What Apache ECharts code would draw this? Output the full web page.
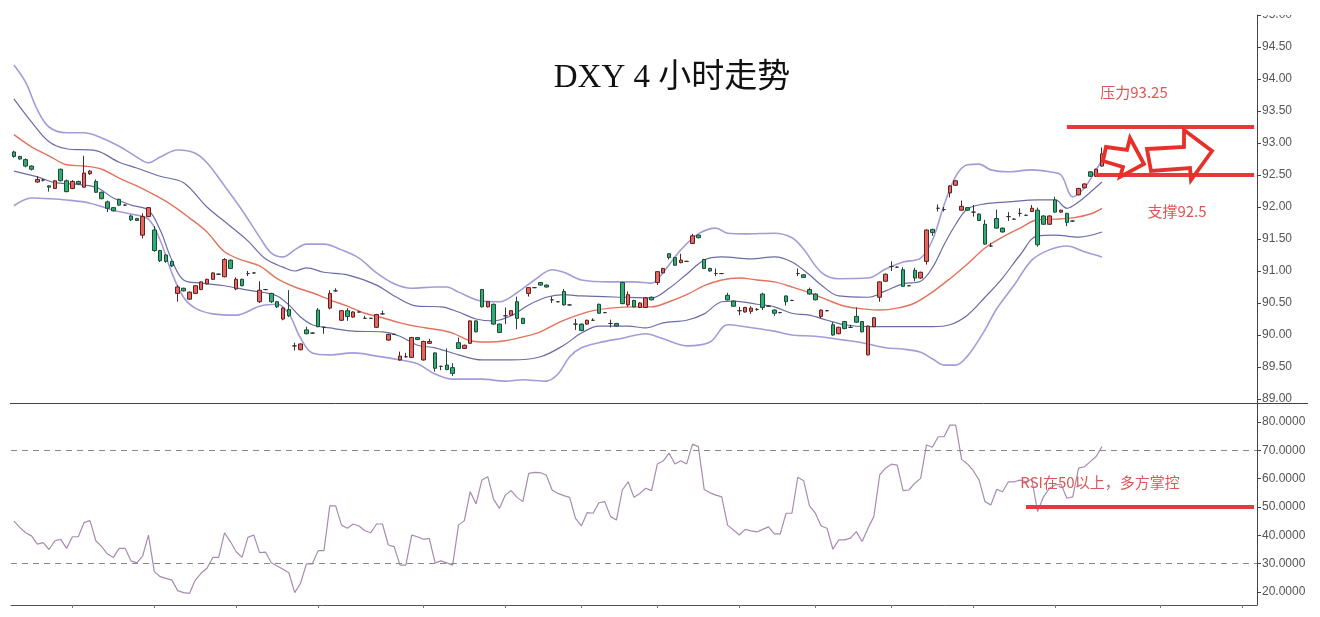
<!DOCTYPE html>
<html>
<head>
<meta charset="utf-8">
<script src="https://cdn.jsdelivr.net/npm/echarts@6.0.0/dist/echarts.min.js"></script>
<style>
html,body{margin:0;padding:0;background:#fff;}
#chart{width:1320px;height:617px;}
</style>
</head>
<body>
<div id="chart"></div>
<script>
// ---------------- DATA ----------------
const slotCount = 213; // 187 candles + empty slots to the right
const title = 'DXY 4 小时走势';

const open = [92.86,92.79,92.74,92.64,92.39,92.42,92.33,92.29,92.59,92.41,
92.29,92.40,92.31,92.52,92.40,92.23,92.08,91.99,92.12,92.03,
91.86,91.82,91.56,91.85,91.64,91.32,91.25,91.15,90.65,90.73,
90.56,90.65,90.71,90.80,90.87,90.95,90.91,91.17,90.72,90.87,
90.96,90.97,90.52,90.71,90.65,90.52,90.25,90.40,89.83,89.77,
90.08,90.03,90.39,90.12,90.42,90.69,90.23,90.38,90.28,90.36,
90.26,90.26,90.12,90.33,89.92,90.01,89.61,89.66,89.65,89.96,
89.61,89.87,89.72,89.51,89.53,89.49,89.88,89.79,89.87,90.22,
90.71,90.44,90.48,90.17,90.30,90.31,90.52,90.26,90.65,90.74,
90.82,90.78,90.55,90.52,90.68,90.47,90.17,90.17,90.17,90.23,
90.48,90.35,90.18,90.18,90.82,90.47,90.54,90.43,90.43,90.59,
90.82,90.97,91.27,91.21,91.13,91.15,91.43,91.56,91.18,91.04,
90.96,90.96,90.62,90.53,90.38,90.36,90.37,90.40,90.64,90.45,
90.39,90.35,90.61,90.54,90.96,90.94,90.71,90.64,90.29,90.38,
90.16,90.02,90.21,90.12,90.29,90.21,89.69,90.13,90.59,90.84,
91.07,91.06,91.02,90.77,91.01,90.89,91.15,91.65,91.98,91.96,
92.22,92.34,91.95,91.99,91.92,91.89,91.73,91.39,91.82,91.67,
91.85,91.81,91.90,91.87,91.93,91.95,91.86,91.73,92.11,91.92,
91.90,91.78,92.19,92.30,92.55,92.48,92.64];

const close = [92.79,92.75,92.64,92.59,92.43,92.42,92.31,92.41,92.41,92.24,
92.40,92.36,92.53,92.56,92.23,92.13,91.98,91.94,92.03,92.03,
91.80,91.79,91.85,91.99,91.32,91.16,91.15,91.08,90.75,90.69,
90.67,90.77,90.83,90.87,90.97,90.95,91.18,91.04,90.87,90.77,
90.96,90.97,90.70,90.71,90.52,90.44,90.42,90.30,89.83,89.86,
90.02,90.03,90.13,90.12,90.65,90.69,90.38,90.29,90.36,90.36,
90.26,90.26,90.32,90.33,90.01,90.01,89.67,89.66,89.96,89.93,
89.90,89.90,89.48,89.51,89.46,89.40,89.79,89.84,90.22,90.05,
90.44,90.52,90.17,90.04,90.30,90.38,90.26,90.18,90.74,90.74,
90.78,90.75,90.55,90.52,90.47,90.47,90.17,90.07,90.23,90.23,
90.34,90.35,90.18,90.14,90.49,90.63,90.44,90.50,90.58,90.55,
90.99,91.04,91.21,91.09,91.17,91.15,91.55,91.52,91.04,91.00,
90.96,90.96,90.55,90.45,90.38,90.43,90.42,90.40,90.43,90.45,
90.34,90.35,90.52,90.54,90.96,90.90,90.64,90.55,90.39,90.38,
90.00,90.12,90.10,90.12,90.20,90.05,90.14,90.27,90.83,90.95,
91.07,91.06,90.76,90.77,90.89,90.98,91.64,91.60,91.98,91.96,
92.33,92.41,92.01,91.95,91.92,91.79,91.42,91.39,91.67,91.61,
91.85,91.81,91.90,91.87,91.98,91.41,91.73,91.86,91.92,91.95,
91.76,91.78,92.29,92.36,92.48,92.59,92.83];

const low = [92.77,92.74,92.62,92.57,92.38,92.40,92.24,92.28,92.40,92.23,
92.28,92.35,92.30,92.50,92.22,92.12,91.92,91.93,92.02,92.02,
91.78,91.78,91.51,91.84,91.30,91.14,91.13,91.06,90.52,90.68,
90.55,90.64,90.70,90.79,90.86,90.94,90.90,91.03,90.70,90.76,
90.92,90.96,90.50,90.70,90.50,90.42,90.23,90.28,89.76,89.76,
90.01,90.02,90.12,90.02,90.40,90.68,90.22,90.22,90.27,90.35,
90.25,90.25,90.11,90.32,89.91,90.00,89.60,89.65,89.64,89.92,
89.60,89.86,89.43,89.45,89.45,89.36,89.78,89.78,89.86,90.04,
90.43,90.43,90.16,90.03,90.17,90.30,90.09,90.17,90.60,90.73,
90.77,90.74,90.50,90.51,90.46,90.46,90.08,90.06,90.16,90.22,
90.33,90.34,90.12,90.13,90.48,90.44,90.43,90.42,90.42,90.54,
90.78,90.96,91.18,91.08,91.12,91.14,91.42,91.51,91.03,90.99,
90.92,90.95,90.54,90.44,90.31,90.35,90.33,90.38,90.39,90.44,
90.30,90.34,90.46,90.53,90.92,90.89,90.63,90.54,90.26,90.37,
89.99,90.01,90.09,90.11,90.19,90.04,89.68,90.12,90.52,90.83,
91.00,91.05,90.75,90.76,90.84,90.88,91.10,91.55,91.93,91.93,
92.15,92.33,91.94,91.94,91.85,91.78,91.41,91.38,91.66,91.60,
91.78,91.80,91.85,91.86,91.92,91.38,91.72,91.72,91.91,91.91,
91.70,91.77,92.18,92.29,92.47,92.47,92.63];

const high = [92.88,92.80,92.76,92.65,92.48,92.44,92.34,92.42,92.60,92.43,
92.42,92.41,92.80,92.58,92.43,92.24,92.10,92.00,92.13,92.04,
91.88,91.83,91.90,92.00,91.70,91.33,91.26,91.16,90.78,90.74,
90.68,90.78,90.84,90.88,90.98,90.96,91.20,91.18,90.90,90.88,
91.00,90.98,90.84,90.72,90.66,90.53,90.44,90.70,89.88,89.87,
90.13,90.04,90.42,90.13,90.70,90.73,90.39,90.42,90.37,90.37,
90.30,90.27,90.33,90.38,90.02,90.02,89.74,89.72,89.97,89.97,
89.91,89.94,89.73,89.52,89.79,89.56,89.96,89.85,90.23,90.23,
90.72,90.53,90.49,90.18,90.43,90.39,90.60,90.27,90.75,90.75,
90.83,90.79,90.60,90.53,90.72,90.48,90.25,90.18,90.24,90.26,
90.49,90.36,90.24,90.19,90.83,90.68,90.55,90.51,90.59,90.60,
91.00,91.05,91.28,91.22,91.27,91.16,91.58,91.57,91.19,91.05,
91.04,90.97,90.66,90.54,90.44,90.44,90.45,90.42,90.66,90.46,
90.40,90.36,90.62,90.55,91.04,90.95,90.74,90.65,90.40,90.39,
90.20,90.13,90.22,90.16,90.43,90.22,90.15,90.28,90.84,90.96,
91.15,91.07,91.06,90.78,91.05,90.99,91.65,91.66,92.04,92.00,
92.34,92.42,92.10,92.00,92.03,91.90,91.80,91.44,91.96,91.68,
91.92,91.82,91.98,91.88,92.03,91.99,91.87,91.87,92.16,91.96,
91.91,91.79,92.30,92.37,92.56,92.60,92.93];

// Bollinger bands, sampled [candle index, price]
const bandUpper2 = [[0,94.22],[2,93.95],[4,93.52],[6,93.25],[9,93.16],[12,93.16],[15,93.08],[18,92.95],[21,92.78],[23,92.69],[25,92.78],[28,92.89],[31,92.84],[33,92.69],[36,92.33],[39,91.95],[42,91.53],[44,91.28],[46,91.22],[48,91.33],[50,91.42],[53,91.42],[56,91.33],[59,91.20],[62,90.97],[65,90.80],[68,90.73],[72,90.75],[74,90.75],[76,90.67],[80,90.53],[83,90.52],[86,90.66],[89,90.86],[92,91.02],[94,90.98],[97,90.86],[102,90.83],[106,90.83],[109,90.81],[111,90.98],[114,91.33],[117,91.58],[120,91.67],[122,91.59],[125,91.58],[130,91.59],[133,91.52],[135,91.34],[138,90.98],[141,90.88],[146,90.89],[149,91.03],[152,91.14],[155,91.20],[157,91.48],[159,92.03],[161,92.48],[163,92.66],[165,92.67],[167,92.58],[170,92.55],[174,92.58],[177,92.55],[179,92.50],[181,92.16],[183,92.30],[185,92.58],[186,92.73]];
const bandUpper1 = [[0,93.69],[3,93.33],[6,93.02],[9,92.91],[14,92.88],[18,92.70],[21,92.61],[25,92.48],[29,92.38],[33,92.00],[37,91.70],[40,91.47],[43,91.19],[46,91.06],[48,91.00],[50,91.05],[53,90.98],[57,90.94],[62,90.78],[65,90.61],[69,90.45],[73,90.44],[76,90.36],[79,90.25],[82,90.22],[85,90.30],[88,90.47],[91,90.59],[94,90.63],[97,90.61],[104,90.59],[109,90.58],[112,90.73],[115,90.95],[118,91.17],[121,91.22],[126,91.19],[130,91.22],[133,91.14],[136,90.94],[138,90.78],[141,90.61],[146,90.59],[149,90.69],[152,90.80],[155,90.84],[157,91.05],[159,91.41],[161,91.73],[163,91.97],[166,92.05],[170,92.08],[175,92.11],[178,92.11],[180,91.98],[182,92.08],[184,92.23],[186,92.39]];
const bandMid = [[0,93.13],[3,92.94],[6,92.80],[9,92.66],[12,92.64],[15,92.59],[18,92.45],[21,92.33],[24,92.19],[27,92.03],[30,91.83],[33,91.61],[36,91.30],[39,91.17],[42,91.08],[45,90.88],[48,90.75],[51,90.66],[54,90.55],[57,90.45],[60,90.34],[63,90.27],[66,90.19],[69,90.13],[72,90.09],[75,90.03],[78,89.91],[81,89.89],[84,89.91],[87,89.97],[90,90.05],[93,90.19],[96,90.30],[99,90.38],[102,90.42],[106,90.44],[109,90.44],[112,90.52],[115,90.63],[118,90.77],[121,90.86],[124,90.89],[127,90.86],[130,90.83],[133,90.75],[136,90.66],[139,90.55],[142,90.45],[145,90.41],[148,90.39],[151,90.42],[154,90.50],[157,90.67],[160,90.88],[163,91.11],[166,91.36],[169,91.53],[172,91.67],[175,91.80],[178,91.81],[181,91.83],[184,91.89],[186,91.98]];
const bandLower1 = [[0,92.56],[4,92.47],[7,92.38],[10,92.36],[14,92.31],[17,92.14],[20,92.03],[23,91.95],[25,91.64],[27,91.17],[29,90.86],[32,90.81],[36,90.77],[40,90.70],[43,90.66],[45,90.61],[47,90.47],[49,90.28],[51,90.16],[54,90.11],[58,90.06],[63,90.05],[66,89.98],[69,89.84],[72,89.80],[76,89.69],[80,89.61],[85,89.61],[90,89.66],[94,89.84],[97,90.03],[100,90.14],[105,90.14],[108,90.11],[111,90.19],[115,90.23],[118,90.33],[121,90.52],[123,90.53],[127,90.48],[130,90.44],[133,90.34],[136,90.31],[139,90.23],[142,90.16],[146,90.13],[152,90.13],[157,90.13],[160,90.16],[163,90.31],[166,90.59],[169,90.89],[172,91.25],[175,91.55],[178,91.56],[182,91.53],[186,91.61]];
const bandLower2 = [[0,92.02],[3,92.14],[6,92.13],[9,92.11],[13,92.06],[17,91.95],[20,91.89],[23,91.81],[25,91.48],[27,90.97],[29,90.59],[31,90.42],[34,90.33],[38,90.31],[42,90.45],[45,90.48],[47,90.33],[49,89.95],[51,89.72],[54,89.69],[58,89.72],[62,89.67],[66,89.61],[69,89.55],[72,89.39],[75,89.31],[80,89.31],[84,89.28],[87,89.30],[91,89.28],[93,89.39],[95,89.66],[97,89.80],[100,89.88],[104,89.95],[108,90.02],[111,89.94],[115,89.83],[119,89.89],[122,90.16],[125,90.13],[130,90.06],[133,90.00],[137,89.98],[142,89.92],[145,89.88],[149,89.80],[152,89.78],[155,89.73],[157,89.63],[159,89.53],[161,89.53],[163,89.67],[166,90.08],[168,90.41],[171,90.78],[174,91.17],[177,91.33],[180,91.39],[183,91.30],[186,91.22]];

const rsi = [45.0,42.8,40.9,39.8,36.9,37.4,35.0,38.1,38.6,35.4,
39.5,39.5,44.5,45.2,38.1,36.0,33.4,32.2,35.4,35.4,
31.0,30.3,32.7,40.1,27.2,25.4,24.8,24.2,20.5,19.8,
19.5,24.2,26.6,28.4,32.2,32.2,40.9,37.8,34.2,32.2,
39.3,40.1,33.9,34.1,30.3,29.2,28.0,26.8,19.8,23.1,
29.9,29.9,34.6,34.6,50.4,50.4,43.6,42.5,44.0,43.3,
41.6,40.9,44.0,44.0,36.6,36.0,29.5,29.5,40.1,39.5,
38.6,38.9,30.3,31.0,30.3,29.5,43.6,45.2,55.4,51.1,
59.5,60.7,52.7,49.5,54.2,55.8,53.4,51.9,61.9,62.2,
62.1,61.3,56.0,54.8,54.0,53.4,46.0,43.3,48.0,47.8,
51.5,51.9,46.6,45.4,56.0,58.9,53.4,54.8,56.6,55.8,
65.2,66.3,69.0,65.2,66.3,65.2,72.2,71.3,56.2,55.0,
54.2,53.6,43.6,41.9,40.1,42.1,41.6,41.2,42.1,43.0,
40.5,40.5,47.8,47.8,60.5,59.3,50.4,47.8,43.3,42.5,
35.1,38.4,38.4,39.0,41.3,37.8,42.5,46.6,61.3,63.7,
65.1,64.8,55.8,56.0,58.4,60.1,71.9,71.1,74.8,74.8,
78.9,78.9,66.8,65.2,62.8,59.5,51.9,50.7,56.2,55.4,
58.9,58.9,59.5,58.9,59.8,48.4,53.6,56.6,57.8,58.0,
53.1,53.6,63.7,64.2,66.0,67.8,71.3];

const priceTicks = [89,89.5,90,90.5,91,91.5,92,92.5,93,93.5,94,94.5,95];
const rsiTicks = [20,30,40,50,60,70,80];
const rsiBounds = [30,70];
const dayTickIdx = [10,24,38,52,70,84,97,110,124,137,150,164,178,196,210];

const resistance = 93.25, resistanceFrom = 180;
const support = 92.5, supportFrom = 185;
const rsiLevel = 50, rsiLevelFrom = 173;
const resistanceText = '压力93.25';
const supportText = '支撑92.5';
const rsiText = 'RSI在50以上，多方掌控';

// ---------------- CHART ----------------
const categories = Array.from({length: slotCount}, (_, i) => String(i));
const candles = open.map((o, i) => [o, close[i], low[i], high[i]]);
const lastCat = categories[slotCount - 1];

const chart = echarts.init(document.getElementById('chart'), null, {renderer: 'canvas'});

const bandLine = (name, data, color, w) => ({
  name, type: 'line', data, xAxisIndex: 0, yAxisIndex: 0,
  showSymbol: false, symbol: 'none', smooth: 0.35, silent: true, z: 1,
  lineStyle: {color, width: w}
});

const axisLabelFont = {color: '#555', fontSize: 12, fontFamily: "'Liberation Sans', Arial, sans-serif"};
const redMark = '#e33b3b';

chart.setOption({
  animation: false,
  backgroundColor: '#fff',
  grid: [
    {left: 11, right: 63, top: 15, height: 388},
    {left: 11, right: 63, top: 403, height: 202}
  ],
  xAxis: [
    {type: 'category', gridIndex: 0, data: categories, boundaryGap: true,
     axisLine: {show: false}, axisTick: {show: false}, axisLabel: {show: false}, splitLine: {show: false}},
    {type: 'category', gridIndex: 1, data: categories, boundaryGap: true,
     axisLine: {show: true, lineStyle: {color: '#555', width: 1}},
     axisTick: {show: true, alignWithLabel: true, length: 3,
                interval: (idx) => dayTickIdx.indexOf(idx) >= 0,
                lineStyle: {color: '#777'}},
     axisLabel: {show: false}, splitLine: {show: false}}
  ],
  yAxis: [
    {type: 'value', gridIndex: 0, position: 'right', min: 89 - 4/64, max: 95, scale: true,
     axisLine: {show: true, lineStyle: {color: '#444'}},
     axisTick: {show: true, length: 4, customValues: priceTicks, lineStyle: {color: '#444'}},
     axisLabel: Object.assign({customValues: priceTicks, margin: 5, formatter: v => v.toFixed(2)}, axisLabelFont),
     splitLine: {show: false}},
    {type: 'value', gridIndex: 1, position: 'right', min: 20 - 13/(170/60), max: 80 + 19/(170/60),
     axisLine: {show: true, lineStyle: {color: '#444'}},
     axisTick: {show: true, length: 4, customValues: rsiTicks, lineStyle: {color: '#444'}},
     axisLabel: Object.assign({customValues: rsiTicks, margin: 5, formatter: v => v.toFixed(4)}, axisLabelFont),
     splitLine: {show: false}}
  ],
  series: [
    bandLine('上轨2', bandUpper2, '#a39cd8', 1.6),
    bandLine('上轨1', bandUpper1, '#6b6ca6', 1.2),
    bandLine('中轨', bandMid, '#e2735d', 1.4),
    bandLine('下轨1', bandLower1, '#6b6ca6', 1.2),
    bandLine('下轨2', bandLower2, '#a39cd8', 1.6),
    {
      name: 'DXY', type: 'candlestick', xAxisIndex: 0, yAxisIndex: 0, data: candles,
      barWidth: 4, z: 3,
      itemStyle: {color: '#e4675f', color0: '#2eae74', borderColor: '#5e2222', borderColor0: '#1f4a35',
                  borderColorDoji: '#333', borderWidth: 1},
      markLine: {
        silent: true, symbol: ['none', 'none'], label: {show: false}, animation: false,
        lineStyle: {color: redMark, width: 4, type: 'solid'},
        data: [
          [{coord: [categories[resistanceFrom], resistance]}, {coord: [lastCat, resistance]}],
          [{coord: [categories[supportFrom], support]}, {coord: [lastCat, support]}]
        ]
      }
    },
    {
      name: 'RSI', type: 'line', xAxisIndex: 1, yAxisIndex: 1, data: rsi,
      showSymbol: false, symbol: 'none', silent: true, z: 2,
      lineStyle: {color: '#a88bb0', width: 1.2},
      markLine: {
        silent: true, symbol: ['none', 'none'], label: {show: false}, animation: false,
        data: [
          {yAxis: rsiBounds[0], lineStyle: {color: '#888', width: 1, type: [6, 5]}},
          {yAxis: rsiBounds[1], lineStyle: {color: '#888', width: 1, type: [6, 5]}},
          [{coord: [categories[rsiLevelFrom], rsiLevel], lineStyle: {color: redMark, width: 4, type: 'solid'}},
           {coord: [lastCat, rsiLevel]}]
        ]
      }
    }
  ],
  graphic: [
    {type: 'rect', shape: {x: 1258, y: 0, width: 62, height: 15}, style: {fill: '#fff'}, z: 100, silent: true},
    {type: 'line', shape: {x1: 10, y1: 403.5, x2: 1308, y2: 403.5}, style: {stroke: '#444', lineWidth: 1}, z: 50, silent: true},
    {type: 'text', x: 672, y: 78, z: 60, silent: true,
     style: {text: title, fill: '#111', font: "normal 33px 'Liberation Serif', 'Noto Sans CJK SC', serif",
             textAlign: 'center', textVerticalAlign: 'middle'}},
    {type: 'text', x: 1134, y: 92, z: 60, silent: true,
     style: {text: resistanceText, fill: '#e05555', font: "15px 'Noto Sans CJK SC', sans-serif",
             textAlign: 'center', textVerticalAlign: 'middle'}},
    {type: 'text', x: 1177, y: 211, z: 60, silent: true,
     style: {text: supportText, fill: '#e05555', font: "15px 'Noto Sans CJK SC', sans-serif",
             textAlign: 'center', textVerticalAlign: 'middle'}},
    {type: 'text', x: 1100, y: 482, z: 60, silent: true,
     style: {text: rsiText, fill: '#e05555', font: "15px 'Noto Sans CJK SC', sans-serif",
             textAlign: 'center', textVerticalAlign: 'middle'}},
    {type: 'polygon', z: 70, silent: true,
     shape: {points: [[1106,147],[1127,150],[1130,138],[1144,164],[1120,177],[1123,167],[1103,161]]},
     style: {fill: 'rgba(255,255,255,0)', stroke: '#e8302a', lineWidth: 3.8, lineJoin: 'miter'}},
    {type: 'polygon', z: 70, silent: true,
     shape: {points: [[1147,149],[1184,147],[1184,130],[1212,151],[1191,180],[1190,168],[1151,171]]},
     style: {fill: 'rgba(255,255,255,0)', stroke: '#e8302a', lineWidth: 3.8, lineJoin: 'miter'}}
  ]
});
</script>
</body>
</html>
